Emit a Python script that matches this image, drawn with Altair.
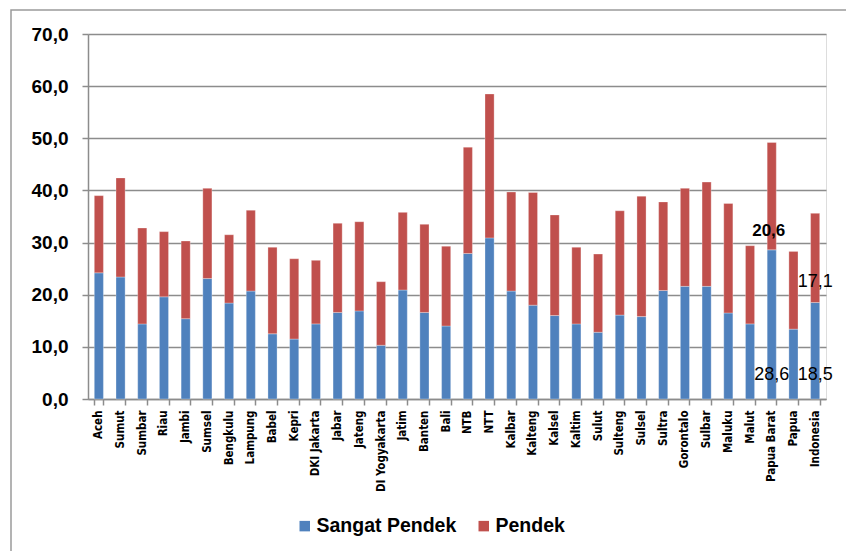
import altair as alt
import pandas as pd

provinces = ["Aceh", "Sumut", "Sumbar", "Riau", "Jambi", "Sumsel", "Bengkulu", "Lampung",
             "Babel", "Kepri", "DKI Jakarta", "Jabar", "Jateng", "DI Yogyakarta", "Jatim",
             "Banten", "Bali", "NTB", "NTT", "Kalbar", "Kalteng", "Kalsel", "Kaltim", "Sulut",
             "Sulteng", "Sulsel", "Sultra", "Gorontalo", "Sulbar", "Maluku", "Malut",
             "Papua Barat", "Papua", "Indonesia"]

sangat_pendek = [24.2, 23.4, 14.4, 19.6, 15.4, 23.1, 18.4, 20.7, 12.5, 11.5, 14.4, 16.6, 16.9,
                 10.3, 20.9, 16.6, 14.0, 27.9, 30.9, 20.7, 18.0, 16.0, 14.4, 12.8, 16.1, 15.8,
                 20.8, 21.6, 21.6, 16.5, 14.4, 28.6, 13.4, 18.5]
total = [39.0, 42.4, 32.8, 32.1, 30.3, 40.4, 31.5, 36.2, 29.1, 26.9, 26.6, 33.7, 34.0, 22.5,
         35.8, 33.5, 29.3, 48.3, 58.5, 39.7, 39.6, 35.3, 29.1, 27.8, 36.1, 38.9, 37.8, 40.4,
         41.6, 37.5, 29.4, 49.2, 28.3, 35.6]
pendek = [round(t - s, 1) for t, s in zip(total, sangat_pendek)]

series = ["Sangat Pendek", "Pendek"]
colors = ["#4F81BD", "#C0504D"]

rows = []
for i, p in enumerate(provinces):
    rows.append({"prov": p, "series": "Sangat Pendek", "order": 0, "value": sangat_pendek[i]})
    rows.append({"prov": p, "series": "Pendek", "order": 1, "value": pendek[i]})
df = pd.DataFrame(rows)

def fmt(v):
    return f"{v:.1f}".replace(".", ",")

idx_pb = provinces.index("Papua Barat")
idx_in = provinces.index("Indonesia")
base_labels = pd.DataFrame({
    "prov": ["Papua Barat", "Indonesia"],
    "txt": [fmt(sangat_pendek[idx_pb]), fmt(sangat_pendek[idx_in])],
    "v": [0.0, 0.0],
})
pb_label = pd.DataFrame({"prov": ["Papua Barat"], "txt": [fmt(pendek[idx_pb])],
                         "v": [sangat_pendek[idx_pb]]})
in_label = pd.DataFrame({"prov": ["Indonesia"], "txt": [fmt(pendek[idx_in])],
                         "v": [sangat_pendek[idx_in]]})

xlab_font = "DejaVu Sans Condensed, Liberation Sans Narrow, sans-serif"

x_enc = alt.X("prov:N", sort=provinces, title=None,
              scale=alt.Scale(paddingInner=0.58, paddingOuter=0.29),
              axis=alt.Axis(labelAngle=270, labelFont=xlab_font, labelFontWeight="bold",
                            labelFontSize=11.5, labelColor="#000000", domainColor="#8c8c8c",
                            domainWidth=1.5, tickColor="#8c8c8c", tickWidth=1.5, tickSize=6,
                            tickBand="extent", labelPadding=5, grid=False))

y_enc = alt.Y("value:Q", title=None, stack="zero",
              scale=alt.Scale(domain=[0, 70], nice=False),
              axis=alt.Axis(values=[0, 10, 20, 30, 40, 50, 60, 70],
                            labelExpr="replace(format(datum.value, '.1f'), '.', ',')",
                            labelFont="Liberation Sans, Arial, sans-serif", labelFontSize=19,
                            labelFontWeight="bold", labelColor="#000000", labelPadding=14,
                            domainColor="#8c8c8c", domainWidth=1.5, tickColor="#8c8c8c",
                            tickWidth=1.5, tickSize=6, gridColor="#8c8c8c", gridWidth=1.5))

border = alt.Chart(pd.DataFrame({"a": [0]})).mark_rect(
    filled=False, stroke="#9a9a9a", strokeWidth=1.5
).encode(x=alt.value(-77), x2=alt.value(900), y=alt.value(-24), y2=alt.value(600))

bars = alt.Chart(df).mark_bar(stroke="white", strokeWidth=0.3).encode(
    x=x_enc,
    y=y_enc,
    color=alt.Color("series:N", sort=series,
                    scale=alt.Scale(domain=series, range=colors),
                    legend=alt.Legend(title=None, orient="none", direction="horizontal",
                                      legendX=207, legendY=482, symbolType="square",
                                      symbolSize=110, symbolStrokeWidth=0,
                                      labelFont="Liberation Sans, Arial, sans-serif",
                                      labelFontSize=19.5, labelFontWeight="bold",
                                      labelColor="#000000", columnPadding=17,
                                      labelOffset=2)),
    order=alt.Order("order:Q"),
)

lab_font = "Liberation Sans, Arial, sans-serif"
t_base = alt.Chart(base_labels).mark_text(
    font=lab_font, fontSize=18, color="#000000", dy=-24, baseline="middle"
).encode(x=alt.X("prov:N", sort=provinces), y=alt.Y("v:Q"), text="txt:N")

t_pb = alt.Chart(pb_label).mark_text(
    font=lab_font, fontSize=17, fontWeight="bold", color="#000000", dy=-19, dx=-3,
    baseline="middle"
).encode(x=alt.X("prov:N", sort=provinces), y=alt.Y("v:Q"), text="txt:N")

t_in = alt.Chart(in_label).mark_text(
    font=lab_font, fontSize=18, color="#000000", dy=-21, baseline="middle"
).encode(x=alt.X("prov:N", sort=provinces), y=alt.Y("v:Q"), text="txt:N")

chart = alt.layer(bars, t_base, t_pb, t_in, border).properties(
    width=738, height=365,
    autosize=alt.AutoSizeParams(type="none"),
    padding={"left": 88, "top": 34, "right": 20, "bottom": 152},
).configure_view(stroke=None).configure(background="white")

chart.save("out.html", embed_options={"renderer": "svg", "actions": False})
